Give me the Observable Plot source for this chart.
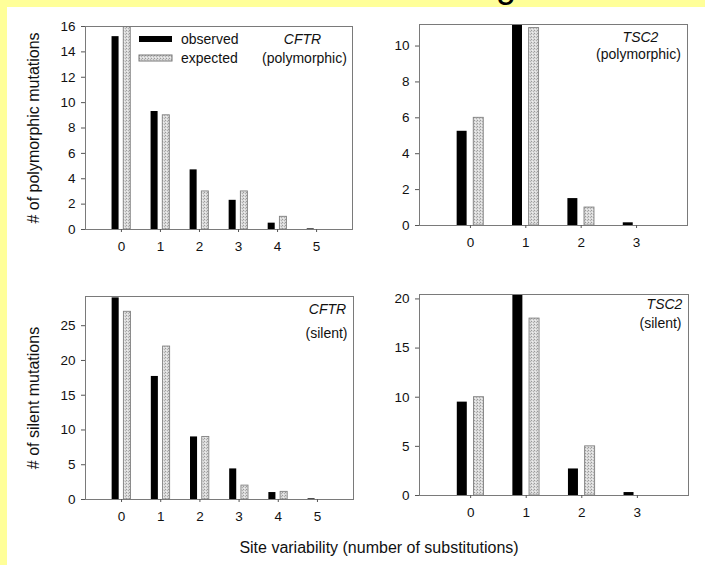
<!DOCTYPE html>
<html>
<head>
<meta charset="utf-8">
<script src="https://cdn.jsdelivr.net/npm/d3@7"></script>
<script src="https://cdn.jsdelivr.net/npm/@observablehq/plot@0.6"></script>
<style>
  html, body { margin: 0; padding: 0; }
  body { width: 705px; height: 565px; background: #ffff99; position: relative; overflow: hidden;
         font-family: "Liberation Sans", Arial, sans-serif; }
  #titleFrag { position: absolute; left: 496px; top: -33px; font-size: 36px; line-height: 36px; color: #000; }
  #sheet { position: absolute; left: 7px; top: 7px; right: 0; bottom: 0; background: #fff; }
  .panel { position: absolute; }
  #xlabel { position: absolute; left: 0; width: 758px; top: 539px; text-align: center; font-size: 16px; color: #111; }
  #legend { position: absolute; left: 139px; top: 29px; }
  div.lg-swatches { font-family: "Liberation Sans", Arial, sans-serif !important; font-size: 14px !important; margin: 0 !important; color: #111; }
  div.lg-swatches div.lg-swatch { height: 19px; padding-bottom: 0 !important; }
  div.lg-swatches div.lg-swatch > svg { margin-right: 9px !important; }
  div.lg-swatches div.lg-swatch:nth-of-type(2) > svg rect { stroke: #777; stroke-width: 1px; }
</style>
</head>
<body>
<svg width="0" height="0" style="position:absolute">
  <defs>
    <pattern id="stipple" width="3" height="3" patternUnits="userSpaceOnUse">
      <rect width="3" height="3" fill="#dadada"></rect>
      <rect x="0" y="0" width="1" height="1" fill="#9a9a9a"></rect>
      <rect x="2" y="1" width="1" height="1" fill="#b0b0b0"></rect>
      <rect x="1" y="2" width="1" height="1" fill="#eeeeee"></rect>
    </pattern>
  </defs>
</svg>
<div id="titleFrag">g</div>
<div id="sheet"></div>
<div id="xlabel">Site variability (number of substitutions)</div>
<script>
// ---- data ----
const categoriesCFTR = [0, 1, 2, 3, 4, 5];
const categoriesTSC2 = [0, 1, 2, 3];
const seriesNames = ["observed", "expected"];

const cftrPolyObserved = [15.2, 9.3, 4.7, 2.3, 0.5, 0.05];
const cftrPolyExpected = [16.4, 9.0, 3.0, 3.0, 1.0, 0];
const tsc2PolyObserved = [5.25, 11.5, 1.5, 0.15];
const tsc2PolyExpected = [6.0, 11.0, 1.0, 0];
const cftrSilentObserved = [29.0, 17.7, 9.0, 4.4, 1.0, 0.1];
const cftrSilentExpected = [27.0, 22.0, 9.0, 2.0, 1.1, 0];
const tsc2SilentObserved = [9.5, 21.0, 2.7, 0.3];
const tsc2SilentExpected = [10.0, 18.0, 5.0, 0];

const yTicksCFTRPoly = [0, 2, 4, 6, 8, 10, 12, 14, 16];
const yTicksTSC2Poly = [0, 2, 4, 6, 8, 10];
const yTicksCFTRSilent = [0, 5, 10, 15, 20, 25];
const yTicksTSC2Silent = [0, 5, 10, 15, 20];

const yMaxCFTRPoly = 16, yMaxTSC2Poly = 11.2, yMaxCFTRSilent = 29.2, yMaxTSC2Silent = 20.45;

const yLabelPoly = "# of polymorphic mutations";
const yLabelSilent = "# of silent mutations";

// ---- drawing ----
const FONT = "'Liberation Sans', Arial, sans-serif";
const OBS_FILL = "#000";
const EXP_FILL = "url(#stipple)";

function panel(o) {
  const rows = [];
  o.cats.forEach((k, i) => {
    rows.push({k, v: o.obs[i], s: "observed"});
    rows.push({k, v: o.exp[i], s: "expected"});
  });
  const obsRows = rows.filter(d => d.s === "observed" && d.v > 0);
  const expRows = rows.filter(d => d.s === "expected" && d.v > 0);
  const n = o.cats.length;
  const marks = [
    Plot.rect(obsRows, {x1: d => d.k - 0.24, x2: d => d.k - 0.06, y1: d => 0, y2: "v", fill: OBS_FILL, clip: true}),
    Plot.rect(expRows, {x1: d => d.k + 0.06, x2: d => d.k + 0.24, y1: d => 0, y2: "v", fill: EXP_FILL, stroke: "#808080", strokeWidth: 0.9, clip: true}),
    Plot.frame({stroke: "#7a7a7a", strokeWidth: 1}),
    Plot.axisY({ticks: o.yTicks, tickSize: 4, tickPadding: 6, label: null, stroke: "#555", fontSize: 14}),
    Plot.axisX({ticks: o.cats, tickSize: 3, tickPadding: 9, label: null, stroke: "#555", tickFormat: d => String(d), fontSize: 14}),
    Plot.text([o.gene], {frameAnchor: "top-right", text: d => d, dx: o.geneDx, dy: o.geneDy, textAnchor: "middle", lineAnchor: "middle", fontStyle: "italic", fontSize: 14, fill: "#111"}),
    Plot.text([o.kind], {frameAnchor: "top-right", text: d => d, dx: o.kindDx, dy: o.kindDy, textAnchor: "middle", lineAnchor: "middle", fontSize: 14, fill: "#111"})
  ];
  if (o.yLabel) {
    marks.push(Plot.text([o.yLabel], {frameAnchor: "left", text: d => d, rotate: -90, dx: o.yLabelDx, textAnchor: "middle", lineAnchor: "middle", fontSize: 16, fill: "#111"}));
  }
  const svg = Plot.plot({
    width: o.w, height: o.h,
    marginLeft: o.ml, marginRight: o.mr, marginTop: o.mt, marginBottom: o.mb,
    x: {type: "linear", domain: [-0.92, n - 1 + 0.92]},
    y: {domain: [0, o.yMax]},
    style: {fontFamily: FONT, fontSize: "14px", background: "transparent", color: "#111", overflow: "visible"},
    marks
  });
  // enlarge numeric tick labels (style only)
  svg.querySelectorAll("text").forEach(t => {
    if (/^\d+$/.test(t.textContent.trim())) {
      t.style.fontSize = "13.5px";
      t.style.fontFamily = FONT;
    }
  });
  svg.classList.add("panel");
  svg.style.left = o.left + "px";
  svg.style.top = o.top + "px";
  svg.style.position = "absolute";
  document.body.appendChild(svg);
}

panel({cats: categoriesCFTR, obs: cftrPolyObserved, exp: cftrPolyExpected, yMax: yMaxCFTRPoly, yTicks: yTicksCFTRPoly,
  left: 0, top: 0, w: 360, h: 265, ml: 85, mr: 8, mt: 26, mb: 36,
  gene: "CFTR", kind: "(polymorphic)", geneDx: -50, geneDy: 13, kindDx: -48, kindDy: 32,
  yLabel: yLabelPoly, yLabelDx: -52});

panel({cats: categoriesTSC2, obs: tsc2PolyObserved, exp: tsc2PolyExpected, yMax: yMaxTSC2Poly, yTicks: yTicksTSC2Poly,
  left: 345, top: 0, w: 360, h: 265, ml: 74, mr: 18, mt: 24, mb: 40,
  gene: "TSC2", kind: "(polymorphic)", geneDx: -47, geneDy: 13, kindDx: -49, kindDy: 30});

panel({cats: categoriesCFTR, obs: cftrSilentObserved, exp: cftrSilentExpected, yMax: yMaxCFTRSilent, yTicks: yTicksCFTRSilent,
  left: 0, top: 270, w: 360, h: 265, ml: 85, mr: 7, mt: 26, mb: 36,
  gene: "CFTR", kind: "(silent)", geneDx: -26, geneDy: 13, kindDx: -27, kindDy: 37,
  yLabel: yLabelSilent, yLabelDx: -52});

panel({cats: categoriesTSC2, obs: tsc2SilentObserved, exp: tsc2SilentExpected, yMax: yMaxTSC2Silent, yTicks: yTicksTSC2Silent,
  left: 345, top: 270, w: 360, h: 265, ml: 74, mr: 17, mt: 24, mb: 40,
  gene: "TSC2", kind: "(silent)", geneDx: -24, geneDy: 10, kindDx: -28, kindDy: 29});

// legend (Plot swatches)
const legend = Plot.legend({
  legend: "swatches",
  color: {type: "ordinal", domain: seriesNames, range: [OBS_FILL, EXP_FILL]},
  columns: 1, swatchWidth: 33, swatchHeight: 6, className: "lg"
});
const holder = document.createElement("div");
holder.id = "legend";
holder.appendChild(legend);
document.body.appendChild(holder);
</script>
</body>
</html>
